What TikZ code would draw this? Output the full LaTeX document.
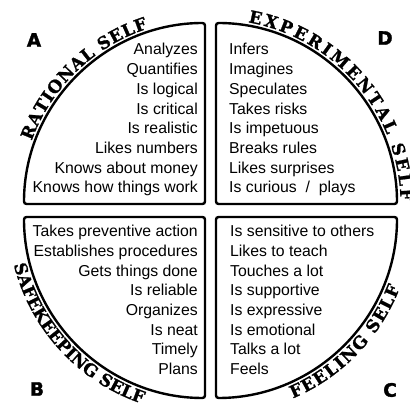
\documentclass[tikz,border=0pt]{standalone}
\usepackage{fontspec}
\setmainfont{Liberation Sans}
\newfontfamily\labelfont{DejaVu Serif}[BoldFeatures={FakeBold=1.2}]
\newfontfamily\cornerfont{DejaVu Sans}[BoldFeatures={FakeBold=1.5}]
\usetikzlibrary{decorations.text}

\begin{document}
\begin{tikzpicture}[x=1pt,y=1pt,
  quadrant/.style={draw=black, line width=2.4pt, rounded corners=2.5pt},
  item/.style={font=\fontsize{15.8}{19}\selectfont, inner sep=0pt},
  corner/.style={font=\cornerfont\bfseries\fontsize{18.5}{18.5}\selectfont, inner sep=0pt},
  arclabel/.style={decorate, decoration={text along path, text align={fit to path},
    text={|\labelfont\bfseries\fontsize{17}{17}\selectfont|#1}}}
]
\useasboundingbox (0,0) rectangle (410,407);

% centres of the four quarter discs
\coordinate (ctl) at (205,203);
\coordinate (ctr) at (216,203);
\coordinate (cbl) at (205,190);
\coordinate (cbr) at (216,190);

% quadrant outlines
\draw[quadrant] (ctl) -- ++(0,181) arc[start angle=90, end angle=180, radius=181] -- cycle;
\draw[quadrant] (ctr) -- ++(0,181) arc[start angle=90, end angle=0, radius=181] -- cycle;
\draw[quadrant] (cbl) -- ++(0,-181) arc[start angle=270, end angle=180, radius=181] -- cycle;
\draw[quadrant] (cbr) -- ++(0,-181) arc[start angle=270, end angle=360, radius=181] -- cycle;

% trait lists
\foreach \t [count=\i] in {Analyzes, Quantifies, Is logical, Is critical, Is realistic,
    Likes numbers, Knows about money, Knows how things work}
  \node[item, anchor=base east] (ra\i) at (198,{371.7-19.7*\i}) {\t};
\foreach \t [count=\i] in {Infers, Imagines, Speculates, Takes risks, Is impetuous,
    Breaks rules, Likes surprises, Is curious~ / ~plays}
  \node[item, anchor=base west] (ex\i) at (229,{371.7-19.7*\i}) {\t};
\foreach \t [count=\i] in {Takes preventive action, Establishes procedures, Gets things done,
    Is reliable, Organizes, Is neat, Timely, Plans}
  \node[item, anchor=base east] (sa\i) at (198,{190-19.7*\i}) {\t};
\foreach \t [count=\i] in {Is sensitive to others, Likes to teach, Touches a lot,
    Is supportive, Is expressive, Is emotional, Talks a lot, Feels}
  \node[item, anchor=base west] (fe\i) at (230,{190-19.7*\i}) {\t};

% curved titles
\path[arclabel={RATIONAL SELF}] ([shift={(160:184.5)}]ctl)
  arc[start angle=160, end angle=108, radius=184.5];
\path[arclabel={EXPERIMENTAL SELF}] ([shift={(80:184.5)}]ctr)
  arc[start angle=80, end angle=1, radius=184.5];
\path[arclabel={SAFEKEEPING SELF}] ([shift={(194:197)}]cbl)
  arc[start angle=194, end angle=251, radius=197];
\path[arclabel={FEELING SELF}] ([shift={(293:197)}]cbr)
  arc[start angle=293, end angle=339, radius=197];

% corner letters
\node[corner] (la) at (34,367) {A};
\node[corner] (ld) at (385,369) {D};
\node[corner] (lb) at (37,18) {B};
\node[corner] (lc) at (390,17) {C};
\end{tikzpicture}
\end{document}
